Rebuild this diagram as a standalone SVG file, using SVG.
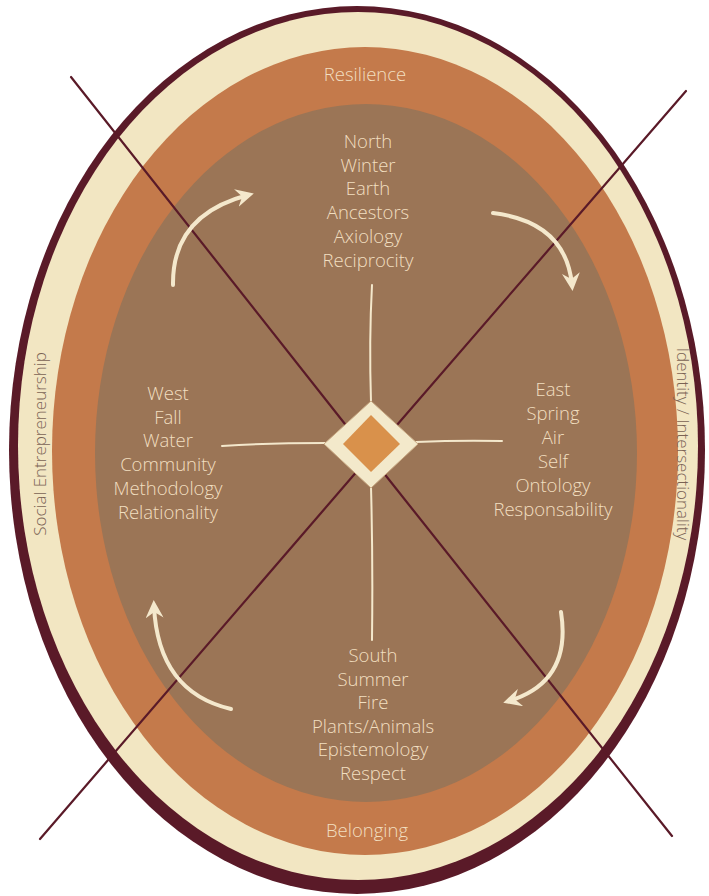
<svg xmlns="http://www.w3.org/2000/svg" width="709" height="896" viewBox="0 0 709 896">
  <style>
    .lbl { font-family: "Open Sans", "Liberation Sans", sans-serif; font-size: 18.5px; font-weight: 300; fill: #f2dfc0; text-anchor: middle; }
    .side { font-family: "Open Sans", "Liberation Sans", sans-serif; font-size: 17px; font-weight: 300; fill: #7a6254; text-anchor: middle; }
    .xline { stroke: #5a1a28; stroke-width: 2.2; fill: none; stroke-linecap: round; }
    .cline { stroke: #f4e8cc; stroke-width: 2; fill: none; stroke-linecap: round; }
    .arrow { stroke: #f4e8cc; stroke-width: 4; fill: none; stroke-linecap: round; }
  </style>
  <defs>
    <marker id="ah" viewBox="0 0 12 12" refX="8" refY="6" markerWidth="18" markerHeight="18" markerUnits="userSpaceOnUse" orient="auto">
      <path d="M0,0 L12,6 L0,12 L4,6 z" fill="#f4e8cc"/>
    </marker>
  </defs>
  <rect width="709" height="896" fill="#ffffff"/>

  <g id="ring-outer">
    <ellipse cx="357" cy="450" rx="348" ry="444" fill="#5a1a28"/>
    <ellipse cx="358" cy="446" rx="340" ry="434" fill="#f2e6c2"/>
  </g>
  <g id="ring-middle">
    <ellipse cx="365" cy="451" rx="313" ry="404" fill="#c47a4b"/>
  </g>
  <g id="ring-inner">
    <ellipse cx="366" cy="453" rx="271" ry="349" fill="#9b7556"/>
  </g>

  <g id="connectors">
    <path class="xline" d="M71,77 L371,457 L672,836"/>
    <path class="xline" d="M686,91 L371,455 L40,839"/>
    <path class="cline" d="M372,285 Q369,340 371,402"/>
    <path class="cline" d="M371,487 Q373,560 372,640"/>
    <path class="cline" d="M222,446 Q270,443 325,443"/>
    <path class="cline" d="M416,442 Q460,440 502,441"/>
    <path class="arrow" d="M173,285 Q172,215 248,195" marker-end="url(#ah)"/>
    <path class="arrow" d="M493,213 Q566,222 572,285" marker-end="url(#ah)"/>
    <path class="arrow" d="M231,709 Q158,692 154,606" marker-end="url(#ah)"/>
    <path class="arrow" d="M561,612 Q572,682 509,701" marker-end="url(#ah)"/>
  </g>

  <g id="center">
    <polygon points="371,401 418,444 371,488 324,444" fill="#f3e9cb" stroke="#c9a983" stroke-width="1"/>
    <polygon points="371,415 400,444 371,472 343,444" fill="#d9914b"/>
  </g>

  <g id="resilience"><text class="lbl" x="365" y="81">Resilience</text></g>
  <g id="belonging"><text class="lbl" x="367" y="837">Belonging</text></g>
  <g id="social"><text class="side" transform="translate(46,444) rotate(-90)">Social Entrepreneurship</text></g>
  <g id="identity"><text class="side" transform="translate(677,444) rotate(90)">Identity / Intersectionality</text></g>

  <g id="north">
    <text class="lbl" x="368" y="148">North</text>
    <text class="lbl" x="368" y="172">Winter</text>
    <text class="lbl" x="368" y="195">Earth</text>
    <text class="lbl" x="368" y="219">Ancestors</text>
    <text class="lbl" x="368" y="243">Axiology</text>
    <text class="lbl" x="368" y="267">Reciprocity</text>
  </g>
  <g id="east">
    <text class="lbl" x="553" y="396">East</text>
    <text class="lbl" x="553" y="420">Spring</text>
    <text class="lbl" x="553" y="444">Air</text>
    <text class="lbl" x="553" y="468">Self</text>
    <text class="lbl" x="553" y="492">Ontology</text>
    <text class="lbl" x="553" y="516">Responsability</text>
  </g>
  <g id="west">
    <text class="lbl" x="168" y="400">West</text>
    <text class="lbl" x="168" y="424">Fall</text>
    <text class="lbl" x="168" y="447">Water</text>
    <text class="lbl" x="168" y="471">Community</text>
    <text class="lbl" x="168" y="495">Methodology</text>
    <text class="lbl" x="168" y="519">Relationality</text>
  </g>
  <g id="south">
    <text class="lbl" x="373" y="662">South</text>
    <text class="lbl" x="373" y="686">Summer</text>
    <text class="lbl" x="373" y="709">Fire</text>
    <text class="lbl" x="373" y="733">Plants/Animals</text>
    <text class="lbl" x="373" y="756">Epistemology</text>
    <text class="lbl" x="373" y="780">Respect</text>
  </g>
</svg>
